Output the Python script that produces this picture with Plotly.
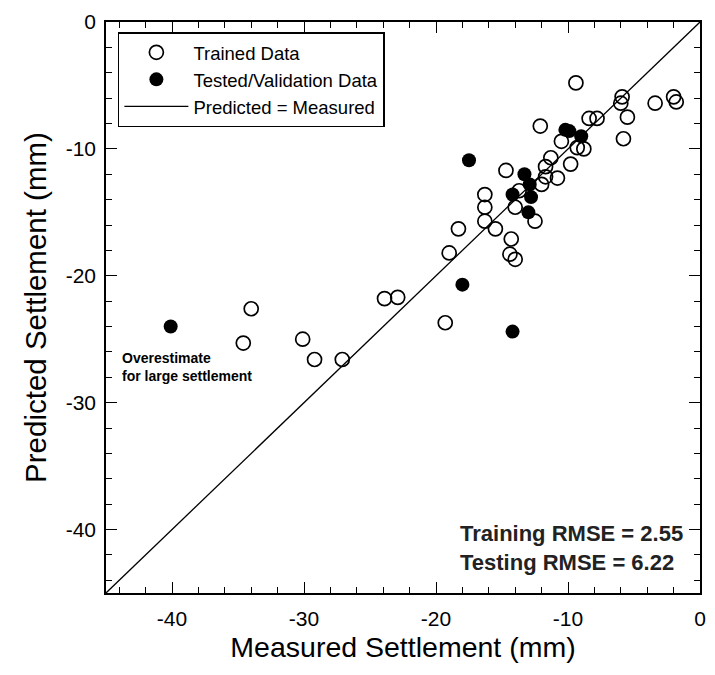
import plotly.graph_objects as go

# Trained data: measured vs predicted settlement (mm)
trained_measured = [-9.4, -5.9, -6.0, -3.4, -2.0, -1.8, -5.5, -8.4, -7.8, -12.1,
                    -5.8, -9.3, -8.8, -10.5, -11.3, -11.7, -9.8, -14.7, -11.7, -10.8,
                    -12.0, -13.7, -16.3, -16.3, -14.0, -16.3, -12.5, -18.3, -15.5, -14.3,
                    -19.0, -14.4, -14.0, -19.3, -34.0, -34.6, -30.1, -29.2, -27.1, -23.9,
                    -22.9]
trained_predicted = [-4.8, -5.9, -6.4, -6.4, -5.9, -6.3, -7.5, -7.6, -7.6, -8.2,
                     -9.2, -9.9, -10.0, -9.4, -10.7, -11.4, -11.2, -11.7, -12.2, -12.3,
                     -12.8, -13.3, -13.6, -14.6, -14.6, -15.7, -15.7, -16.3, -16.3, -17.1,
                     -18.2, -18.3, -18.7, -23.7, -22.6, -25.3, -25.0, -26.6, -26.6, -21.8,
                     -21.7]

# Tested / validation data
tested_measured = [-17.5, -10.2, -9.9, -9.0, -13.3, -12.9, -14.2, -12.8, -13.0, -18.0,
                   -14.2, -40.1]
tested_predicted = [-10.9, -8.5, -8.6, -9.0, -12.0, -12.8, -13.6, -13.8, -15.0, -20.7,
                    -24.4, -24.0]

# 1:1 reference line
line_x = [-45, 0]
line_y = [-45, 0]

axis_range = [-45, 0]
tick_values = [-40, -30, -20, -10, 0]
tick_labels = ["-40", "-30", "-20", "-10", "0"]

FONT = "Arial, Liberation Sans, Helvetica, sans-serif"

fig = go.Figure()
fig.add_trace(go.Scatter(
    x=trained_measured, y=trained_predicted, mode="markers", name="Trained Data",
    marker=dict(symbol="circle-open", size=14, color="black", line=dict(width=1.7)),
))
fig.add_trace(go.Scatter(
    x=tested_measured, y=tested_predicted, mode="markers", name="Tested/Validation Data",
    marker=dict(symbol="circle", size=14, color="black"),
))
fig.add_trace(go.Scatter(
    x=line_x, y=line_y, mode="lines", name="Predicted = Measured",
    line=dict(color="black", width=1.3),
))

axis_common = dict(
    range=axis_range, tickvals=tick_values, ticktext=tick_labels,
    showgrid=False, zeroline=False, showline=True, linecolor="black", linewidth=1.5,
    mirror="allticks", ticks="inside", ticklen=11, tickwidth=1.2, tickcolor="black",
    minor=dict(dtick=2, tick0=0, ticks="inside", ticklen=6, tickwidth=1, tickcolor="black"),
    tickfont=dict(family=FONT, size=21, color="black"),
)

fig.update_xaxes(**axis_common, ticklabelstandoff=6,
                 title=dict(text="Measured Settlement (mm)",
                            font=dict(family=FONT, size=28.5, color="black"), standoff=8))
fig.update_yaxes(**axis_common, ticklabelstandoff=4,
                 title=dict(text="Predicted Settlement (mm)",
                            font=dict(family=FONT, size=29.5, color="black"), standoff=10))

fig.add_annotation(
    x=0.023, y=(1 - (367 - 22) / 571), xref="paper", yref="paper",
    text="Overestimate<br>for large settlement", showarrow=False,
    xanchor="left", yanchor="middle", align="left",
    font=dict(family=FONT, size=14, color="black", weight="bold"),
)
fig.add_annotation(
    x=(691 - 106) / 600, y=1 - (548 - 22) / 571, xref="paper", yref="paper",
    text="Training RMSE = 2.55<br>Testing RMSE = 6.22", showarrow=False,
    xanchor="right", yanchor="middle", align="left",
    font=dict(family=FONT, size=22, color="#222222", weight="bold"),
)

fig.update_layout(
    width=715, height=675,
    margin=dict(l=106, r=9, t=22, b=82),
    paper_bgcolor="white", plot_bgcolor="white",
    showlegend=True,
    legend=dict(
        x=0.02, y=0.982, xanchor="left", yanchor="top",
        bordercolor="black", borderwidth=1.5, bgcolor="white",
        font=dict(family=FONT, size=18.5, color="black"),
        tracegroupgap=0, itemwidth=64,
    ),
)

fig.write_html("out.html")
